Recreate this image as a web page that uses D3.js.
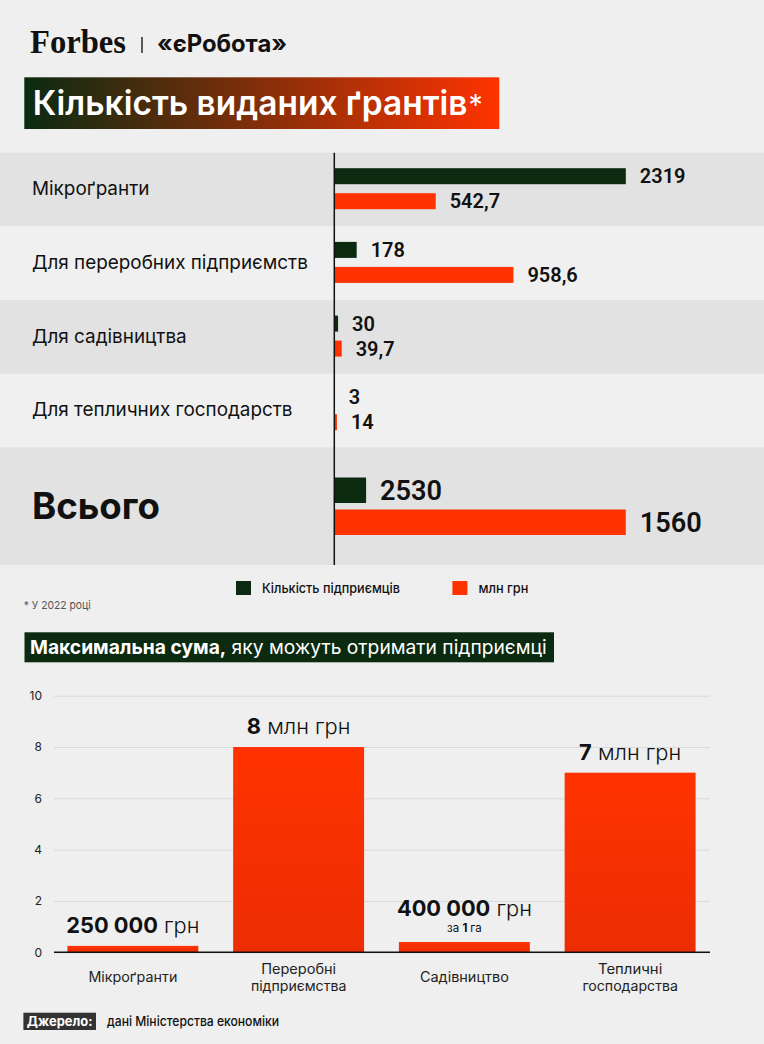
<!DOCTYPE html>
<html>
<head>
<meta charset="utf-8">
<script src="https://cdn.jsdelivr.net/npm/d3@7"></script>
<style>
  body { margin: 0; background: #efefef; }
  svg { display: block; }
</style>
</head>
<body>
<svg id="chart"></svg>
<script>
// ---- data: top chart (grants issued in 2022)
const grantCategories = ["Мікроґранти", "Для переробних підприємств", "Для садівництва", "Для тепличних господарств", "Всього"];
const companyCounts = [2319, 178, 30, 3, 2530];
const companyBarValues = [2319, 178, 30, 3, 253];   // the total bar is drawn short in the original
const amountsMln = [542.7, 958.6, 39.7, 14, 1560];
const legendLabels = ["Кількість підприємців", "млн грн"];

// ---- data: bottom chart (max amount per company)
const maxCategories = ["Мікроґранти", "Переробні\nпідприємства", "Садівництво", "Тепличні\nгосподарства"];
const maxAmountsMln = [0.25, 8, 0.4, 7];
const maxBoldText = ["250 000", "8", "400 000", "7"];
const maxUnitText = ["грн", "млн грн", "грн", "млн грн"];
const maxNoteText = ["", "", "за 1 га", ""];
const yTicks = [0, 2, 4, 6, 8, 10];

const W = 764, H = 1044;
const font = "Inter, 'Noto Sans', sans-serif";
const numFont = "Roboto, Inter, sans-serif";
const green = "#0b2a10", orange = "#ff3300";

const svg = d3.select('#chart').attr('width', W).attr('height', H);
svg.append('rect').attr('width', W).attr('height', H).attr('fill', '#efefef');

// font size that makes a string a given width
function sizeFor(parts, target, family = font) {
  const t = svg.append('text').attr('font-family', family).attr('font-size', 100);
  parts.forEach(p => t.append('tspan').attr('font-weight', p[1]).text(p[0]));
  const w = t.node().getComputedTextLength();
  t.remove();
  return 100 * target / w;
}
const fmt = v => String(v).replace('.', ',');

const defs = svg.append('defs');
const tg = defs.append('linearGradient').attr('id', 'titleGrad');
tg.append('stop').attr('offset', '0%').attr('stop-color', '#0a2a12');
tg.append('stop').attr('offset', '100%').attr('stop-color', '#ff3300');
const bg = defs.append('linearGradient').attr('id', 'barGrad')
  .attr('x1', 0).attr('x2', 0).attr('y1', 0).attr('y2', 1);
bg.append('stop').attr('offset', '0%').attr('stop-color', '#ff3300');
bg.append('stop').attr('offset', '100%').attr('stop-color', '#ec2d03');

// ---- header
svg.append('text').attr('x', 30).attr('y', 52.7)
  .attr('font-family', "'Liberation Serif', serif").attr('font-weight', 700)
  .attr('font-size', 34).attr('textLength', 96).attr('lengthAdjust', 'spacingAndGlyphs')
  .attr('fill', '#111').text('Forbes');
svg.append('line').attr('x1', 142).attr('x2', 142).attr('y1', 37).attr('y2', 53)
  .attr('stroke', '#333').attr('stroke-width', 1.6);
svg.append('text').attr('x', 157).attr('y', 52)
  .attr('font-family', font).attr('font-weight', 700)
  .attr('font-size', sizeFor([["«єРобота»", 700]], 130)).attr('fill', '#111').text('«єРобота»');

svg.append('rect').attr('x', 24.3).attr('y', 77.3).attr('width', 475).attr('height', 51.7)
  .attr('fill', 'url(#titleGrad)');
const fsTitle = sizeFor([["Кількість виданих ґрантів", 600]], 435);
const title = svg.append('text').attr('x', 32.7).attr('y', 103.2 + fsTitle * 0.36)
  .attr('font-family', font).attr('font-size', fsTitle).attr('fill', '#fff');
title.append('tspan').attr('font-weight', 600).text('Кількість виданих ґрантів');
title.append('tspan').attr('font-weight', 400).attr('dx', 1).attr('font-size', fsTitle * 0.85).text('*');

// ---- top chart
const totalIndex = grantCategories.length - 1;
const rowTop = i => 152.7 + i * 73.7;
const rowHeight = i => i === totalIndex ? 117.5 : 73.7;
const axisX = 334.3;

const xCount = d3.scaleLinear().domain([0, d3.max(companyBarValues)]).range([0, 291.5]);
const xAmount = d3.scaleLinear().domain([0, d3.max(amountsMln)]).range([0, 291.5]);

const rows = svg.append('g').selectAll('g').data(grantCategories).join('g')
  .attr('transform', (d, i) => `translate(0,${rowTop(i)})`);

rows.append('rect').attr('width', W).attr('height', (d, i) => rowHeight(i))
  .attr('fill', (d, i) => i % 2 === 0 ? '#e2e2e2' : '#f0f0f0');

const fsRow = sizeFor([["Для переробних підприємств", 400]], 276);
const fsTotal = sizeFor([["Всього", 700]], 128);
rows.append('text').attr('x', 32)
  .attr('y', (d, i) => i === totalIndex ? rowHeight(i) / 2 + fsTotal * 0.36 : rowHeight(i) / 2 - 1 + fsRow * 0.36)
  .attr('font-family', font)
  .attr('font-weight', (d, i) => i === totalIndex ? 700 : 400)
  .attr('font-size', (d, i) => i === totalIndex ? fsTotal : fsRow)
  .attr('fill', '#111').text(d => d);

const geom = i => i === totalIndex ? { d: 30, o: 62, h: 25.5 } : { d: 15.5, o: 40.5, h: 16 };
const fsNum = sizeFor([["2319", 600]], 45.7, numFont);
const fsNumTotal = sizeFor([["2530", 600]], 62, numFont);

rows.append('rect').attr('x', axisX).attr('y', (d, i) => geom(i).d)
  .attr('width', (d, i) => xCount(companyBarValues[i])).attr('height', (d, i) => geom(i).h)
  .attr('fill', green);
rows.append('rect').attr('x', axisX).attr('y', (d, i) => geom(i).o)
  .attr('width', (d, i) => xAmount(amountsMln[i])).attr('height', (d, i) => geom(i).h)
  .attr('fill', orange);

const numSize = i => i === totalIndex ? fsNumTotal : fsNum;
rows.append('text').attr('x', (d, i) => axisX + xCount(companyBarValues[i]) + 14)
  .attr('y', (d, i) => geom(i).d + geom(i).h / 2 + numSize(i) * 0.355)
  .attr('font-family', numFont).attr('font-weight', 600).attr('font-size', (d, i) => numSize(i))
  .attr('fill', '#111').text((d, i) => fmt(companyCounts[i]));
rows.append('text').attr('x', (d, i) => axisX + xAmount(amountsMln[i]) + 14)
  .attr('y', (d, i) => geom(i).o + geom(i).h / 2 + numSize(i) * 0.355)
  .attr('font-family', numFont).attr('font-weight', 600).attr('font-size', (d, i) => numSize(i))
  .attr('fill', '#111').text((d, i) => fmt(amountsMln[i]));

svg.append('line').attr('x1', axisX).attr('x2', axisX)
  .attr('y1', rowTop(0)).attr('y2', rowTop(totalIndex) + rowHeight(totalIndex))
  .attr('stroke', '#111').attr('stroke-width', 1.5);

// ---- legend and footnote
const legendX = [236, 452.4];
const legendW = [138, 50];
const legendColors = [green, orange];
const legend = svg.append('g').selectAll('g').data(legendLabels).join('g')
  .attr('transform', (d, i) => `translate(${legendX[i]},581)`);
legend.append('rect').attr('width', 15).attr('height', 14).attr('fill', (d, i) => legendColors[i]);
legend.append('text').attr('x', 26).attr('y', 7 + 13.5 * 0.36)
  .attr('font-family', font).attr('font-weight', 500).attr('font-size', 13.5)
  .attr('textLength', (d, i) => legendW[i]).attr('lengthAdjust', 'spacingAndGlyphs')
  .attr('fill', '#111').text(d => d);

svg.append('text').attr('x', 23.7).attr('y', 605 + 11 * 0.36)
  .attr('font-family', font).attr('font-size', 11).attr('fill', '#555')
  .attr('textLength', 67).attr('lengthAdjust', 'spacingAndGlyphs').text('* У 2022 році');

// ---- second title
svg.append('rect').attr('x', 24.5).attr('y', 632.3).attr('width', 529.5).attr('height', 30).attr('fill', green);
const parts2 = [["Максимальна сума,", 700], [" яку можуть отримати підприємці", 400]];
const fs2 = sizeFor(parts2, 517);
const t2 = svg.append('text').attr('x', 30).attr('y', 647.3 + fs2 * 0.36)
  .attr('font-family', font).attr('font-size', fs2).attr('fill', '#fff');
parts2.forEach(p => t2.append('tspan').attr('font-weight', p[1]).text(p[0]));

// ---- bottom chart
const y = d3.scaleLinear().domain([0, 10]).range([952.3, 695.7]);
const x = d3.scaleBand().domain(maxCategories).range([50, 713]).paddingInner(0.21).paddingOuter(0.105);

const yAxis = svg.append('g').attr('transform', 'translate(54,0)')
  .call(d3.axisLeft(y).tickValues(yTicks).tickSize(-656).tickPadding(12));
yAxis.select('.domain').remove();
yAxis.selectAll('.tick line').attr('stroke', '#d9d9d9').attr('stroke-width', 1);
yAxis.selectAll('.tick text').attr('font-family', font).attr('font-size', 12).attr('fill', '#222');

svg.append('g').selectAll('rect').data(maxCategories).join('rect')
  .attr('x', d => x(d)).attr('width', x.bandwidth())
  .attr('y', (d, i) => y(maxAmountsMln[i])).attr('height', (d, i) => y(0) - y(maxAmountsMln[i]))
  .attr('fill', 'url(#barGrad)');

svg.append('line').attr('x1', 54).attr('x2', 710).attr('y1', y(0)).attr('y2', y(0))
  .attr('stroke', '#111').attr('stroke-width', 1.6);

const fsVal = sizeFor([["250 000", 700], [" грн", 300]], 133.3);
const vals = svg.append('g').selectAll('text').data(maxCategories).join('text')
  .attr('x', d => x(d) + x.bandwidth() / 2)
  .attr('y', (d, i) => y(maxAmountsMln[i]) - (maxNoteText[i] ? 25.6 : 13))
  .attr('text-anchor', 'middle').attr('font-family', font).attr('font-size', fsVal).attr('fill', '#111');
vals.append('tspan').attr('font-weight', 700).text((d, i) => maxBoldText[i]);
vals.append('tspan').attr('font-weight', 300).text((d, i) => ' ' + maxUnitText[i]);

svg.append('g').selectAll('text').data(maxCategories.filter((d, i) => maxNoteText[i])).join('text')
  .attr('x', d => x(d) + x.bandwidth() / 2)
  .attr('y', d => y(maxAmountsMln[maxCategories.indexOf(d)]) - 10)
  .attr('text-anchor', 'middle').attr('font-family', font).attr('font-size', 11.5).attr('fill', '#111')
  .each(function (d) {
    const note = maxNoteText[maxCategories.indexOf(d)].split(' ');
    const t = d3.select(this);
    t.append('tspan').text(note[0] + ' ');
    t.append('tspan').attr('font-weight', 700).text(note[1] + ' ');
    t.append('tspan').text(note[2]);
  });

const catW = { "Мікроґранти": 89, "Переробні": 75, "підприємства": 95.5, "Садівництво": 89, "Тепличні": 64.4, "господарства": 95.5 };
svg.append('g').selectAll('text').data(maxCategories).join('text')
  .attr('text-anchor', 'middle').attr('font-family', font).attr('font-size', 14).attr('fill', '#222')
  .each(function (d) {
    const lines = d.split('\n');
    const t = d3.select(this);
    const cx = x(d) + x.bandwidth() / 2;
    lines.forEach((ln, k) => {
      const cy = 977.4 + (k - (lines.length - 1) / 2) * 16.7;
      t.append('tspan').attr('x', cx).attr('y', cy + 14 * 0.36)
        .attr('textLength', catW[ln]).attr('lengthAdjust', 'spacingAndGlyphs').text(ln);
    });
  });

// ---- source
svg.append('rect').attr('x', 23.4).attr('y', 1012.7).attr('width', 72.6).attr('height', 17.3).attr('fill', '#333');
svg.append('text').attr('x', 26.8).attr('y', 1021.3 + 13 * 0.36)
  .attr('font-family', font).attr('font-weight', 700).attr('font-size', 13).attr('fill', '#fff')
  .attr('textLength', 65.8).attr('lengthAdjust', 'spacingAndGlyphs').text('Джерело:');
svg.append('text').attr('x', 107).attr('y', 1021.3 + 13 * 0.36)
  .attr('font-family', font).attr('font-weight', 500).attr('font-size', 13).attr('fill', '#111')
  .attr('textLength', 172).attr('lengthAdjust', 'spacingAndGlyphs').text('дані Міністерства економіки');
</script>
</body>
</html>
